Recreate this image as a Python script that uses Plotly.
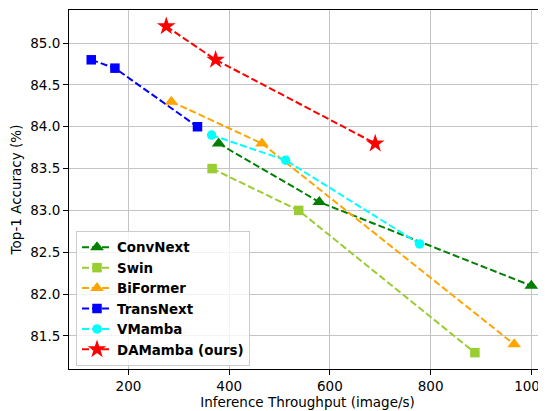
import plotly.graph_objects as go

# Data
names = ["ConvNext", "Swin", "BiFormer", "TransNext", "VMamba", "DAMamba (ours)"]
convnext_x = [379, 579, 1000]
convnext_y = [83.8, 83.1, 82.1]
swin_x = [366, 538, 888]
swin_y = [83.5, 83.0, 81.3]
biformer_x = [285, 465, 966]
biformer_y = [84.3, 83.8, 81.4]
transnext_x = [126, 173, 337]
transnext_y = [84.8, 84.7, 84.0]
vmamba_x = [365, 512, 778]
vmamba_y = [83.9, 83.6, 82.6]
damamba_x = [275, 373, 690]
damamba_y = [85.2, 84.8, 83.8]

xs = [convnext_x, swin_x, biformer_x, transnext_x, vmamba_x, damamba_x]
ys = [convnext_y, swin_y, biformer_y, transnext_y, vmamba_y, damamba_y]
colors = ["#008000", "#9ACD32", "#FFA500", "#0000FF", "#00FFFF", "#FF0000"]
symbols = ["triangle-up", "square", "triangle-up", "square", "circle", "star"]
sizes = [12, 9.5, 12, 9.5, 9.5, 14]

FONT = "DejaVu Sans"

fig = go.Figure()
for n, x, y, c, s, sz in zip(names, xs, ys, colors, symbols, sizes):
    fig.add_trace(go.Scatter(
        x=x, y=y, name=n, mode="lines+markers",
        line=dict(color=c, width=2, dash="7px,3px"),
        marker=dict(symbol=s, size=sz, color=c, line=dict(width=0)),
        cliponaxis=False,
    ))

axis_common = dict(
    showline=True, linecolor="black", linewidth=1,
    ticks="outside", ticklen=5, tickcolor="black", tickwidth=1,
    showgrid=True, gridcolor="#c4c4c4", gridwidth=1,
    zeroline=False, automargin=False, ticklabeloverflow="allow",
    tickfont=dict(family=FONT, size=13.5, color="black"),
)

# The page body has an 8px margin, so the figure is shifted by (8, 8).
fig.update_layout(
    width=538, height=403,
    margin=dict(l=61, r=0, t=2, b=42),
    paper_bgcolor="white", plot_bgcolor="white",
    font=dict(family=FONT, size=13.5, color="black"),
    xaxis=dict(
        range=[81.8, 1029.2], tickvals=[200, 400, 600, 800, 1000],
        mirror=True,
        title=dict(text="Inference Throughput (image/s)", standoff=3,
                   font=dict(family=FONT, size=13.5, color="black")),
        **axis_common,
    ),
    yaxis=dict(
        range=[81.105, 85.395], tickvals=[81.5, 82.0, 82.5, 83.0, 83.5, 84.0, 84.5, 85.0],
        ticktext=["81.5", "82.0", "82.5", "83.0", "83.5", "84.0", "84.5", "85.0"],
        title=dict(text="Top-1 Accuracy (%)", standoff=6,
                   font=dict(family=FONT, size=13.5, color="black")),
        **axis_common,
    ),
    legend=dict(
        x=0.0147, y=0.0083, xanchor="left", yanchor="bottom",
        bgcolor="rgba(255,255,255,0.8)", bordercolor="#cccccc", borderwidth=1,
        font=dict(family=FONT, size=13.4, color="black", weight="bold"),
        itemwidth=30,
    ),
    showlegend=True,
)

fig.write_html("out.html")
